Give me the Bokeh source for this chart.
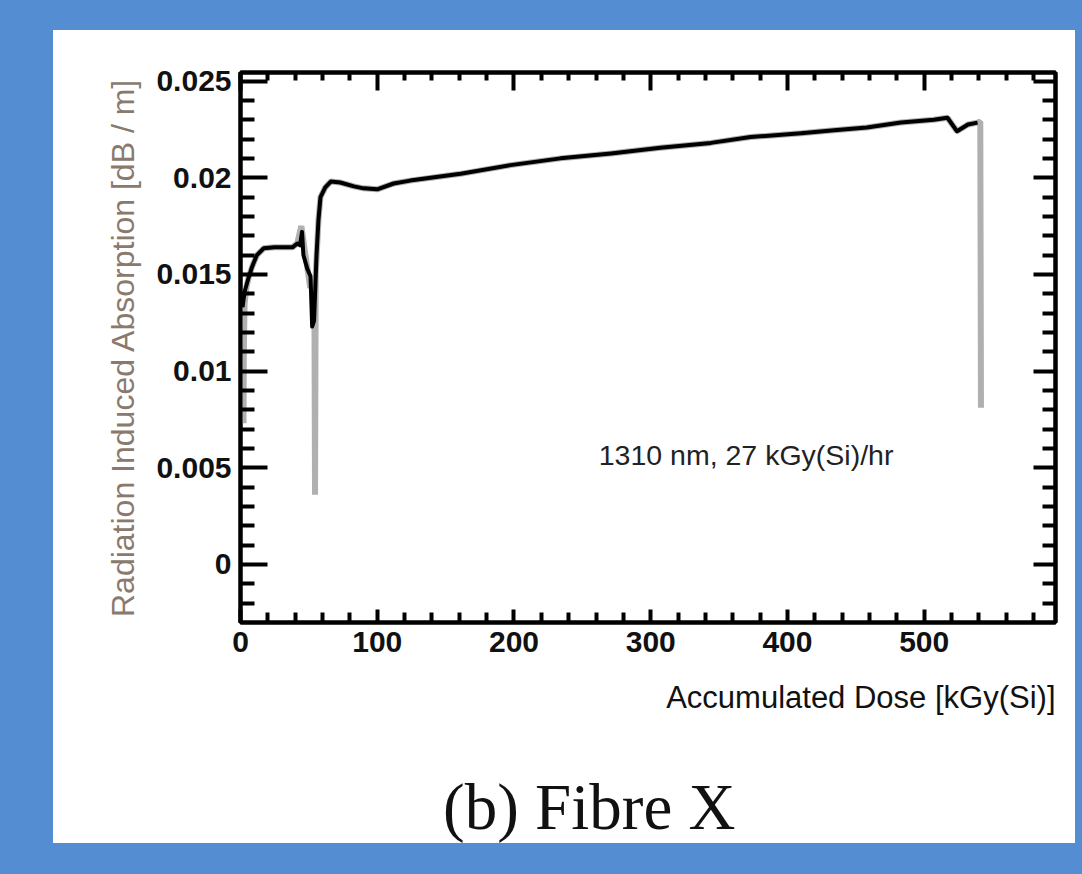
from bokeh.plotting import figure
from bokeh.layouts import column
from bokeh.models import (LinearAxis, Range1d, FixedTicker, Label, Title, Div,
                          GlobalInlineStyleSheet)
from bokeh.embed import file_html
from bokeh.resources import INLINE

# ---------------- data ----------------
# smoothed (black) trace: accumulated dose [kGy(Si)] vs RIA [dB/m]
dose_black = [1.5, 3, 6, 8.5, 12, 17, 25, 33, 38, 41.5, 43.5, 45, 46, 48.8, 51.2,
              52.4, 53.8, 55.6, 57, 58.5, 62, 66, 73, 83, 90, 100, 112, 124, 161,
              197.5, 234, 271, 307, 344, 373, 410, 434, 458, 483, 507, 517, 524,
              532, 539]
ria_black = [0.0133, 0.0141, 0.01485, 0.0154, 0.0160, 0.01635, 0.0164, 0.0164,
             0.0164, 0.0166, 0.0165, 0.0172, 0.0160, 0.0153, 0.0149, 0.0123,
             0.0126, 0.0160, 0.0178, 0.0190, 0.0195, 0.0198, 0.01975, 0.01955,
             0.01945, 0.0194, 0.0197, 0.01985, 0.0202, 0.02065, 0.0210, 0.02125,
             0.02155, 0.0218, 0.0221, 0.0223, 0.02245, 0.0226, 0.02285, 0.0230,
             0.0231, 0.0224, 0.02275, 0.02285]

# raw (grey) trace
dose_grey = [2.2, 2.4, 3, 4.5, 6, 8.5, 12, 17, 25, 33, 38, 41.5, 44.5, 47.5, 51,
             54, 54.5, 55, 57, 58.5, 62, 66, 73, 83, 90, 100, 112, 124, 161, 197.5,
             234, 271, 307, 344, 373, 410, 434, 458, 483, 507, 517, 524, 532, 539,
             541, 541.5]
ria_grey = [0.0073, 0.0110, 0.0135, 0.0144, 0.01485, 0.0154, 0.0160, 0.01635,
            0.0164, 0.0164, 0.0164, 0.0166, 0.0175, 0.0160, 0.0143, 0.0147, 0.0036,
            0.0150, 0.0178, 0.0190, 0.0195, 0.0198, 0.01975, 0.01955, 0.01945,
            0.0194, 0.0197, 0.01985, 0.0202, 0.02065, 0.0210, 0.02125, 0.02155,
            0.0218, 0.0221, 0.0223, 0.02245, 0.0226, 0.02285, 0.0230, 0.0231,
            0.0224, 0.02275, 0.02285, 0.0229, 0.0081]

x_ticks = [0, 100, 200, 300, 400, 500]
x_tick_labels = ["0", "100", "200", "300", "400", "500"]
x_minor = [v for v in range(0, 600, 20) if v % 100 != 0]
y_ticks = [0, 0.005, 0.01, 0.015, 0.02, 0.025]
y_tick_labels = ["0", "0.005", "0.01", "0.015", "0.02", "0.025"]
y_minor = [round(i * 0.001, 3) for i in range(-2, 26) if i % 5 != 0]

x_title = "Accumulated Dose [kGy(Si)]"
y_title = "Radiation Induced Absorption [dB / m]"
note = "1310 nm, 27 kGy(Si)/hr"
caption = "(b) Fibre X"

BLUE = "#558DD3"
SANS = "Liberation Sans"
X_MAX = 596

# ---------------- chart figure ----------------
p = figure(width=1022, height=730, x_range=Range1d(0, X_MAX),
           y_range=Range1d(-0.003, 0.02544),
           x_axis_location=None, y_axis_location=None,
           output_backend="svg", toolbar_location=None,
           min_border_left=187, min_border_right=20, min_border_top=42,
           min_border_bottom=138, border_fill_color="white",
           background_fill_color="white", outline_line_color="black",
           outline_line_width=4)
p.grid.visible = False

xt = FixedTicker(ticks=x_ticks, minor_ticks=x_minor)
yt = FixedTicker(ticks=y_ticks, minor_ticks=y_minor)

bottom = LinearAxis()
top = LinearAxis()
left = LinearAxis()
right = LinearAxis()


def style(ax, ticker, maj_in, min_in, show_labels):
    ax.ticker = ticker
    ax.major_tick_in = maj_in
    ax.major_tick_out = 0
    ax.minor_tick_in = min_in
    ax.minor_tick_out = 0
    ax.major_tick_line_width = 4
    ax.minor_tick_line_width = 4
    ax.major_tick_line_color = "black"
    ax.minor_tick_line_color = "black"
    ax.axis_line_width = 4
    ax.axis_line_color = "black"
    if show_labels:
        ax.major_label_text_font = SANS
        ax.major_label_text_font_style = "bold"
        ax.major_label_text_font_size = "30px"
        ax.major_label_text_color = "#111111"
    else:
        ax.major_label_overrides = {t: "" for t in ticker.ticks}
        ax.major_label_standoff = 0


style(bottom, xt, 13, 10, True)
style(top, xt, 18, 8, False)
style(left, yt, 27, 14, True)
style(right, yt, 22, 13, False)

bottom.major_label_overrides = dict(zip(x_ticks, x_tick_labels))
left.major_label_overrides = dict(zip(y_ticks, y_tick_labels))
bottom.major_label_standoff = 9
left.major_label_standoff = 9

left.axis_label = y_title
left.axis_label_text_font = SANS
left.axis_label_text_font_style = "normal"
left.axis_label_text_font_size = "32px"
left.axis_label_text_color = "#8a7a6e"
left.axis_label_standoff = 12

p.add_layout(bottom, "below")
p.add_layout(top, "above")
p.add_layout(left, "left")
p.add_layout(right, "right")

# x-axis title, right-aligned to the frame edge
p.add_layout(Title(text=x_title, align="right", vertical_align="top",
                   text_font=SANS, text_font_size="31px",
                   text_font_style="normal", text_color="#111111",
                   standoff=50), "below")

# lines
p.line(dose_grey, ria_grey, line_color="#b0b0b0", line_width=6, line_join="bevel")
p.line(dose_black, ria_black, line_color="black", line_width=4, line_join="round")

p.add_layout(Label(x=262, y=0.00564, text=note, text_font=SANS,
                   text_font_size="28.5px", text_color="#222222",
                   text_baseline="middle", text_align="left"))

# ---------------- caption below the chart ----------------
cap = Div(text=('<div style="font-family: \'Liberation Serif\'; font-size: 65px; '
                'line-height: 66px; color: #111111; padding: 9px 0 0 385px; '
                'margin: 0; height: 83px; box-sizing: border-box; '
                'overflow: hidden; white-space: nowrap;">' + caption + '</div>'),
          width=1022, height=83,
          styles={"background-color": "white", "overflow": "hidden"})

page = column(p, cap, spacing=0, width=1022, height=813,
              margin=(30, 0, 0, 53),
              styles={"background-color": "white", "overflow": "hidden"})
page.stylesheets = [GlobalInlineStyleSheet(
    css=f"body {{ background-color: {BLUE}; margin: 0px; }}")]

open("out.html", "w").write(file_html(page, INLINE))
